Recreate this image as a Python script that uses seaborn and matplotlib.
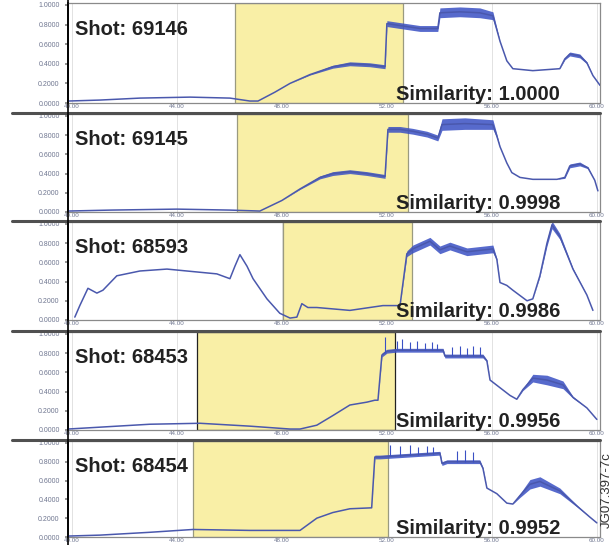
import numpy as np
import pandas as pd
import matplotlib
matplotlib.use("Agg")
import matplotlib.pyplot as plt
from matplotlib.lines import Line2D
import seaborn as sns

sns.set_theme(style="white")
plt.rcParams["font.family"] = ["Liberation Sans", "DejaVu Sans"]

# ---- shots compared against the reference discharge ----
shots = ["69146", "69145", "68593", "68453", "68454"]
similarity = [1.0000, 0.9998, 0.9986, 0.9956, 0.9952]
window_start = [46.21, 46.29, 48.04, 44.76, 44.61]
window_end = [52.61, 52.80, 52.95, 52.31, 52.04]

# ---- traces: time (s), normalised signal, noise half-width ----
t_69146 = [39.85, 41.07, 42.59, 44.50, 46.02, 46.78, 47.09, 47.73, 48.31, 49.07, 49.94,
           50.59, 51.35, 51.93, 52.00, 52.50, 53.26, 53.94, 54.02, 54.78, 55.54, 56.04,
           56.31, 56.57, 56.80, 57.56, 58.59, 58.78, 58.97, 59.35, 59.62, 59.85, 60.12]
v_69146 = [0.02, 0.03, 0.05, 0.06, 0.05, 0.02, 0.02, 0.11, 0.20, 0.29, 0.37,
           0.40, 0.39, 0.37, 0.81, 0.79, 0.76, 0.76, 0.92, 0.93, 0.92, 0.89,
           0.63, 0.43, 0.35, 0.33, 0.35, 0.45, 0.50, 0.48, 0.41, 0.28, 0.18]
n_69146 = [0, 0, 0, 0, 0, 0, 0, 0, 0, 0.005, 0.015,
           0.02, 0.02, 0.02, 0.03, 0.03, 0.03, 0.03, 0.05, 0.05, 0.05, 0.04,
           0, 0, 0, 0, 0, 0.01, 0.02, 0.02, 0.01, 0, 0]

t_69145 = [39.85, 41.50, 44.00, 46.00, 47.16, 48.00, 48.69, 49.45, 49.94, 50.59, 51.24,
           51.93, 52.04, 52.50, 52.99, 53.53, 53.94, 54.10, 54.97, 56.04, 56.19, 56.31,
           56.57, 56.76, 57.07, 57.56, 58.48, 58.78, 58.97, 59.35, 59.66, 59.92, 60.04]
v_69145 = [0.01, 0.02, 0.03, 0.02, 0.01, 0.12, 0.24, 0.36, 0.40, 0.42, 0.40,
           0.37, 0.86, 0.86, 0.84, 0.81, 0.77, 0.91, 0.92, 0.91, 0.79, 0.68,
           0.51, 0.41, 0.36, 0.34, 0.34, 0.36, 0.48, 0.50, 0.46, 0.33, 0.22]
n_69145 = [0, 0, 0, 0, 0, 0, 0.005, 0.015, 0.02, 0.02, 0.02,
           0.02, 0.03, 0.03, 0.03, 0.03, 0.03, 0.06, 0.06, 0.05, 0.02, 0,
           0, 0, 0, 0, 0, 0.01, 0.02, 0.02, 0.01, 0, 0]

t_68593 = [40.11, 40.30, 40.61, 40.95, 41.18, 41.71, 42.59, 43.62, 44.38, 45.52,
           46.02, 46.21, 46.40, 46.67, 46.90, 47.43, 47.92, 48.31, 48.57, 48.76,
           48.99, 49.33, 50.59, 51.85, 52.50, 52.76, 52.99, 53.64, 54.02, 54.40,
           55.05, 56.04, 56.19, 56.31, 56.57, 56.80, 57.34, 57.56, 57.83, 58.10,
           58.29, 58.59, 59.09, 59.62, 59.85]
v_68593 = [0.03, 0.15, 0.33, 0.28, 0.31, 0.46, 0.51, 0.53, 0.51, 0.48,
           0.43, 0.56, 0.68, 0.56, 0.43, 0.22, 0.07, 0.02, 0.03, 0.17,
           0.13, 0.13, 0.10, 0.15, 0.15, 0.69, 0.74, 0.82, 0.73, 0.77,
           0.71, 0.74, 0.63, 0.39, 0.36, 0.31, 0.20, 0.22, 0.46, 0.80,
           0.99, 0.87, 0.53, 0.26, 0.10]
n_68593 = [0, 0, 0, 0, 0, 0, 0, 0, 0, 0,
           0, 0, 0, 0, 0, 0, 0, 0, 0, 0,
           0, 0, 0, 0, 0, 0.03, 0.04, 0.04, 0.04, 0.04,
           0.04, 0.04, 0.01, 0, 0, 0, 0, 0, 0.01, 0.03,
           0.04, 0.03, 0.01, 0, 0]

t_68453 = [39.85, 42.97, 44.88, 46.78, 48.31, 48.69, 49.33, 49.94, 50.59, 51.24,
           51.54, 51.66, 51.81, 52.00, 52.38, 54.14, 54.21, 55.66, 55.81, 55.93,
           56.31, 56.69, 56.95, 57.18, 57.56, 58.10, 58.71, 59.09, 59.62, 60.00]
v_68453 = [0.01, 0.06, 0.07, 0.04, 0.01, 0.01, 0.05, 0.15, 0.26, 0.29,
           0.31, 0.31, 0.78, 0.82, 0.83, 0.83, 0.77, 0.77, 0.72, 0.52,
           0.44, 0.36, 0.32, 0.42, 0.54, 0.52, 0.47, 0.34, 0.23, 0.11]
n_68453 = [0, 0, 0, 0, 0, 0, 0, 0, 0, 0,
           0, 0, 0.02, 0.02, 0.02, 0.02, 0.02, 0.02, 0.01, 0,
           0, 0, 0, 0.01, 0.04, 0.05, 0.04, 0.01, 0, 0]

t_68454 = [39.85, 41.07, 42.97, 44.61, 46.78, 48.31, 48.50, 48.69, 49.33, 49.94,
           50.59, 51.42, 51.54, 51.73, 54.02, 54.10, 54.29, 55.54, 55.66, 55.81,
           56.19, 56.57, 56.80, 57.07, 57.45, 57.83, 58.59, 59.24, 59.74, 60.00]
v_68454 = [0.01, 0.02, 0.05, 0.08, 0.07, 0.07, 0.07, 0.07, 0.20, 0.26,
           0.30, 0.31, 0.85, 0.85, 0.89, 0.78, 0.80, 0.80, 0.73, 0.52,
           0.46, 0.36, 0.35, 0.44, 0.56, 0.59, 0.49, 0.33, 0.21, 0.15]
n_68454 = [0, 0, 0, 0, 0, 0, 0, 0, 0, 0,
           0, 0, 0.02, 0.02, 0.02, 0.02, 0.02, 0.02, 0.01, 0,
           0, 0, 0, 0.02, 0.05, 0.05, 0.03, 0.01, 0, 0]

# ---- ELM-like spikes on the flat-top (time, peak value) ----
spike_t_68453 = [51.93, 52.38, 52.57, 52.88, 53.14, 53.45, 53.72, 53.91,
                 54.48, 54.78, 55.05, 55.28, 55.54]
spike_v_68453 = [0.97, 0.93, 0.95, 0.92, 0.93, 0.91, 0.92, 0.90,
                 0.86, 0.87, 0.85, 0.87, 0.86]
spike_t_68454 = [52.12, 52.50, 52.88, 53.18, 53.53, 53.75, 54.67, 54.97, 55.28]
spike_v_68454 = [0.98, 0.97, 0.98, 0.96, 0.97, 0.96, 0.91, 0.92, 0.90]

x_ticks = [40, 44, 48, 52, 56, 60]
y_ticks = [0.0, 0.2, 0.4, 0.6, 0.8, 1.0]

traces = [
    (t_69146, v_69146, n_69146, None, None),
    (t_69145, v_69145, n_69145, None, None),
    (t_68593, v_68593, n_68593, None, None),
    (t_68453, v_68453, n_68453, spike_t_68453, spike_v_68453),
    (t_68454, v_68454, n_68454, spike_t_68454, spike_v_68454),
]

# ---- layout (pixel boxes of the stacked panels) ----
W, H = 615, 545
fig = plt.figure(figsize=(W / 100, H / 100), dpi=100)
fig.patch.set_facecolor("white")
panel_px = [(3, 103), (114, 212), (222, 320), (332, 430), (441, 537)]
left_px, right_px = 68, 600

line_col = "#4a58ad"
band_col = "#3a50c4"
window_col = "#f9efa6"

for i, ((top, bot), (t, v, n, st, sv)) in enumerate(zip(panel_px, traces)):
    ax = fig.add_axes([left_px / W, 1 - bot / H, (right_px - left_px) / W, (bot - top) / H])
    ax.set_facecolor("white")
    ax.set_xlim(39.85, 60.12)
    ax.set_ylim(0, 1.02)

    ax.xaxis.grid(True, color="#e2e2e2", lw=0.7)
    ax.set_axisbelow(True)

    edge = "#222222" if i == 3 else "#9a9a80"
    ax.axvspan(window_start[i], window_end[i], facecolor=window_col,
               edgecolor=edge, lw=0.9, zorder=0.8)

    tt = np.asarray(t)
    vv = np.asarray(v)
    nn = np.asarray(n)
    ax.fill_between(tt, vv - nn, vv + nn, color=band_col, lw=0, alpha=0.85, zorder=2)
    df = pd.DataFrame({"time": tt, "signal": vv})
    sns.lineplot(data=df, x="time", y="signal", ax=ax, color=line_col, lw=1.1,
                 sort=False, estimator=None, zorder=3)
    if st is not None:
        ax.vlines(st, np.interp(st, tt, vv), sv, color=band_col, lw=0.8, zorder=3)

    ax.set_xlabel("")
    ax.set_ylabel("")
    ax.set_xticks(x_ticks)
    ax.set_xticklabels([f"{x:.2f}" for x in x_ticks])
    ax.set_yticks(y_ticks)
    ax.set_yticklabels([f"{y:.4f}" for y in y_ticks])
    ax.tick_params(axis="x", length=0, pad=1, labelsize=4.5, labelcolor="#6f7690")
    ax.tick_params(axis="y", length=2, pad=4, labelsize=5, labelcolor="#6f7690",
                   color="#888888", left=True)

    for side in ["top", "bottom", "right"]:
        ax.spines[side].set_color("#8a8a8a")
        ax.spines[side].set_linewidth(0.9)
    ax.spines["left"].set_color("black")
    ax.spines["left"].set_linewidth(1.2)

    ax.text(0.013, 0.68, f"Shot: {shots[i]}", transform=ax.transAxes,
            fontsize=14.5, fontweight="bold", color="#222222",
            ha="left", va="baseline", zorder=5)
    ax.text(0.925, 0.03, f"Similarity: {similarity[i]:.4f}", transform=ax.transAxes,
            fontsize=14.5, fontweight="bold", color="#222222",
            ha="right", va="baseline", zorder=5)

# dark separators between panels
for top, bot in panel_px[1:]:
    y = 1 - (top - 1) / H
    fig.add_artist(Line2D([12 / W, right_px / W], [y, y], color="#505050", lw=2.2,
                          transform=fig.transFigure))

# continuous left axis line
fig.add_artist(Line2D([left_px / W, left_px / W], [0, 1], color="black", lw=1.2,
                      transform=fig.transFigure))

fig.text(607 / W, 1 - 490 / H, "JG07.397-7c", rotation=90, fontsize=9.5,
         color="#333333", ha="center", va="center")

fig.savefig("out.png", dpi=100)
